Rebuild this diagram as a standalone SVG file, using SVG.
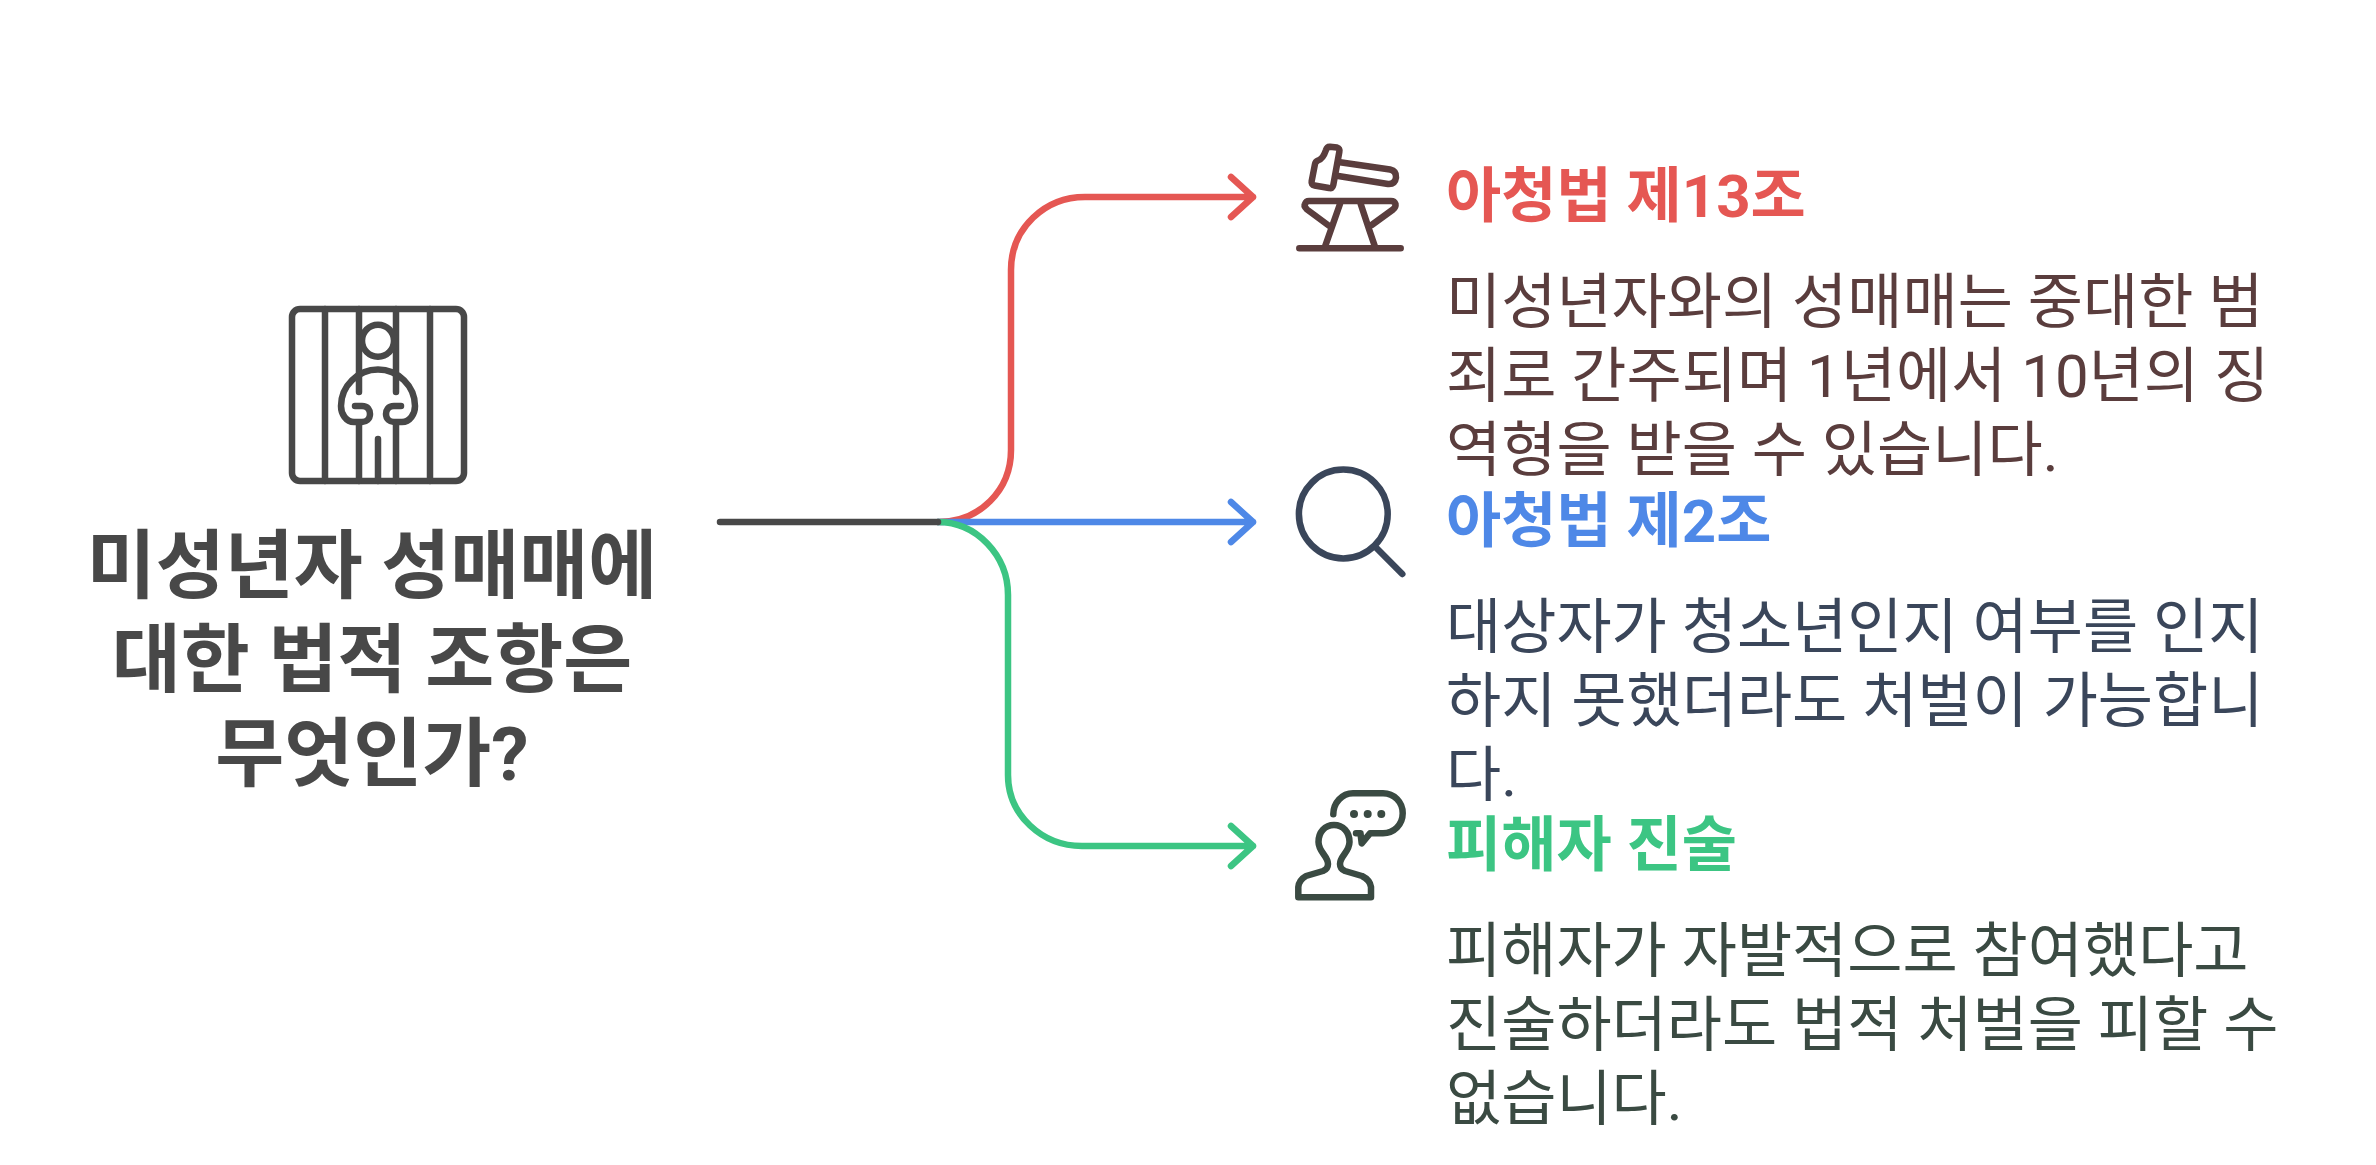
<svg xmlns="http://www.w3.org/2000/svg" width="2376" height="1165" viewBox="0 0 2376 1165">
<style>
text{font-family:Roboto,"Noto Sans CJK KR",sans-serif}
.t{font-size:75px;font-weight:700;fill:#484848;text-anchor:middle}
.h{font-size:60px;font-weight:700}
.b{font-size:60px}
.c{fill:none;stroke-width:6.5;stroke-linecap:round;stroke-linejoin:round}
.i{fill:none;stroke-width:6.5;stroke-linecap:round;stroke-linejoin:round}
</style>
<rect width="2376" height="1165" fill="#fff"/>
<g id="connectors">
<path class="c" stroke="#e55753" d="M938 522C980 522 1011 490 1011 450V270C1011 228 1045 197 1085 197H1253M1231 177L1253 197L1231 217"/>
<path class="c" stroke="#4e88e7" d="M938 522H1253M1231 502L1253 522L1231 542"/>
<path class="c" stroke="#3cc583" d="M938 522C976 522 1008 555 1008 595V775C1008 815 1042 846 1082 846H1253M1231 826L1253 846L1231 866"/>
<path class="c" stroke="#484848" d="M720 522H938"/>
</g>
<g id="root">
<g class="i" stroke="#484848">
<rect x="292" y="309" width="172" height="172" rx="8"/>
<path d="M325 309V481M359 309V392M359 424V481M396 309V392M396 424V481M430 309V481M378 439V481"/>
<circle cx="378" cy="340.7" r="16"/>
<path d="M355 406H362C368 406 370 410 370 414C370 419 366 422 362 422H354C346 422 341 414 341 406C341 386 358 369.5 378 369.5C398 369.5 415 386 415 406C415 414 410 422 402 422H394C390 422 386 419 386 414C386 410 388 406 394 406H401"/>
</g>
<text class="t" x="372" y="592">미성년자 성매매에</text>
<text class="t" x="372" y="686">대한 법적 조항은</text>
<text class="t" x="372" y="780">무엇인가?</text>
</g>
<g id="n1">
<g class="i" stroke="#5a3d3d">
<path d="M1330 146.7L1337 147.5Q1340 148.5 1339.3 152L1333.3 185Q1332.5 189 1329 188L1314.5 185.5Q1311 185 1311.7 181L1315 164Q1315.5 161.5 1318 160.5Q1323 159 1326 150Q1327 146.5 1330 146.7Z"/>
<path d="M1340 162.3L1390 169.5Q1396.5 171 1396 177.5Q1395 184.5 1388 184L1336.7 175.7"/>
<path d="M1329.3 226L1307 209.5Q1303.5 206 1305 204Q1306 201 1309 201H1391Q1394.5 201 1395.5 204Q1396 207 1393 209.5L1371.7 225M1340 204L1325 246.7M1360.7 204L1369.3 230L1375 246.7M1299.3 248.3H1400.7"/>
</g>
<text class="h" x="1446" y="216.5" fill="#e55753">아청법 제13조</text>
<text class="b" x="1446" y="323" fill="#5a3d3d">미성년자와의 성매매는 중대한 범</text>
<text class="b" x="1446" y="397" fill="#5a3d3d">죄로 간주되며 1년에서 10년의 징</text>
<text class="b" x="1446" y="471" fill="#5a3d3d">역형을 받을 수 있습니다.</text>
</g>
<g id="n2">
<g class="i" stroke="#3a465a"><circle cx="1343.3" cy="514" r="44.4"/><path d="M1376.7 548.3L1402.3 574"/></g>
<text class="h" x="1446" y="541.5" fill="#4e88e7">아청법 제2조</text>
<text class="b" x="1446" y="648" fill="#3a465a">대상자가 청소년인지 여부를 인지</text>
<text class="b" x="1446" y="722" fill="#3a465a">하지 못했더라도 처벌이 가능합니</text>
<text class="b" x="1446" y="796" fill="#3a465a">다.</text>
</g>
<g id="n3">
<g class="i" stroke="#3a4a42">
<path d="M1333.3 814.3C1333.3 803 1342 793.3 1353 793.3H1383C1394 793.3 1402.7 802 1402.7 813.3C1402.7 824.5 1394 833.3 1383 833.3H1370L1361.7 843.3L1360.5 833.3H1356"/>
<path d="M1298.3 897.3H1371V887Q1370 880 1362 876L1345 871Q1340 869 1340 864C1340 856 1349.5 852 1349.5 842C1349.5 832 1343 825 1334 825C1325 825 1318.5 832 1318.5 842C1318.5 852 1328 856 1328 864Q1328 869 1323 871L1306 876Q1299 880 1298.3 887Z"/>
</g>
<g fill="#3a4a42"><circle cx="1354" cy="814" r="4"/><circle cx="1367.7" cy="814" r="4"/><circle cx="1381.3" cy="814" r="4"/></g>
<text class="h" x="1446" y="865.5" fill="#3cc583">피해자 진술</text>
<text class="b" x="1446" y="972" fill="#3a4a42">피해자가 자발적으로 참여했다고</text>
<text class="b" x="1446" y="1046" fill="#3a4a42">진술하더라도 법적 처벌을 피할 수</text>
<text class="b" x="1446" y="1120" fill="#3a4a42">없습니다.</text>
</g>
</svg>
